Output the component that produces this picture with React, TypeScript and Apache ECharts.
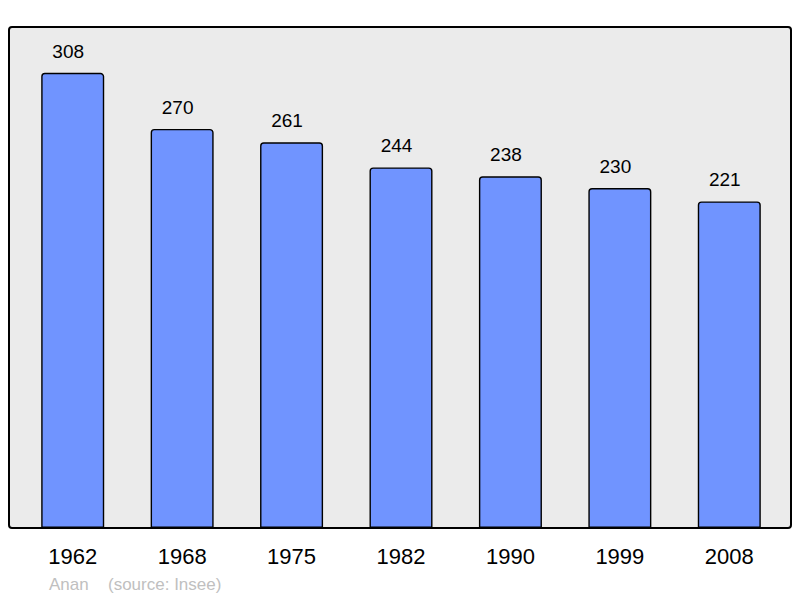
import React, { useEffect, useRef } from "react";
import * as echarts from "echarts";

const years = ["1962", "1968", "1975", "1982", "1990", "1999", "2008"];
const population = [308, 270, 261, 244, 238, 230, 221];
const footerLeft = "Anan";
const footerRight = "(source: Insee)";

export default function App() {
  const ref = useRef<HTMLDivElement>(null);
  useEffect(() => {
    if (!ref.current) return;
    const chart = echarts.init(ref.current, undefined, { renderer: "svg" });
    const font = "Liberation Sans, Arial, sans-serif";
    chart.setOption({
      animation: false,
      textStyle: { fontFamily: font },
      grid: { left: 18, right: 16, top: 27, bottom: 70, containLabel: false },
      xAxis: {
        type: "category",
        data: years,
        axisLine: { show: false },
        axisTick: { show: false },
        axisLabel: { color: "#000", fontSize: 22, margin: 17, fontFamily: font },
      },
      yAxis: {
        type: "value",
        min: 0,
        max: 339,
        show: false,
        splitLine: { show: false },
      },
      graphic: [
        {
          type: "rect",
          z: -10,
          silent: true,
          shape: { x: 9, y: 27, width: 782, height: 501, r: 3 },
          style: { fill: "#ebebeb", stroke: "none" },
        },
        {
          type: "rect",
          z: 100,
          silent: true,
          shape: { x: 9, y: 27, width: 782, height: 501, r: 3 },
          style: { fill: "none", stroke: "#000", lineWidth: 2 },
        },
        {
          type: "text",
          x: 49,
          y: 584,
          style: {
            text: footerLeft,
            fill: "#c0c0c0",
            font: `17px ${font}`,
            verticalAlign: "middle",
            align: "left",
          },
        },
        {
          type: "text",
          x: 108,
          y: 584,
          style: {
            text: footerRight,
            fill: "#c0c0c0",
            font: `17px ${font}`,
            verticalAlign: "middle",
            align: "left",
          },
        },
      ],
      series: [
        {
          type: "bar",
          data: population,
          barWidth: 63,
          itemStyle: {
            color: "#7094ff",
            borderColor: "#000",
            borderWidth: 1.4,
            borderRadius: [3, 3, 0, 0],
          },
          label: {
            show: true,
            position: "top",
            distance: 12,
            offset: [-4.5, 0],
            color: "#000",
            fontSize: 19,
            fontFamily: font,
          },
        },
      ],
    });
    return () => chart.dispose();
  }, []);
  return <div ref={ref} style={{ width: 800, height: 598, position: "absolute", left: 0, top: 0 }} />;
}
